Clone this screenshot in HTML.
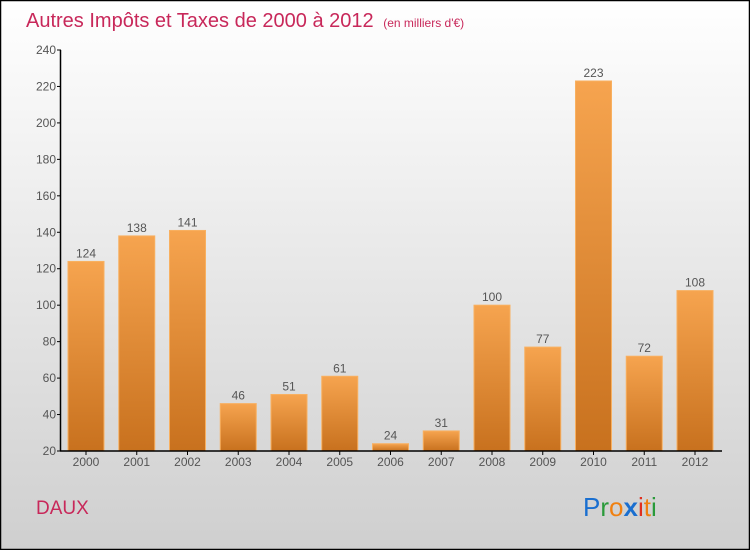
<!DOCTYPE html>
<html><head><meta charset="utf-8"><style>
body{margin:0}
svg{display:block}
text{font-family:"Liberation Sans",sans-serif}
</style></head><body>
<svg id="c" width="750" height="550" xmlns="http://www.w3.org/2000/svg">
<defs>
<linearGradient id="bg" x1="0" y1="0" x2="0" y2="1"><stop offset="0" stop-color="#ffffff"/><stop offset="1" stop-color="#cfcfcf"/></linearGradient>
<linearGradient id="bar" x1="0" y1="0" x2="0" y2="1"><stop offset="0" stop-color="#f6a44f"/><stop offset="1" stop-color="#c8711e"/></linearGradient>
</defs>
<rect x="0.5" y="0.5" width="749" height="549" fill="url(#bg)" stroke="#000" stroke-width="1.5"/>
<text x="26" y="27" font-size="20" fill="#c8285a">Autres Impôts et Taxes de 2000 à 2012 <tspan font-size="12" dx="4">(en milliers d'€)</tspan></text>
<g id="bars"></g>
<g id="axes"></g>
<text x="36" y="514" font-size="19" fill="#c8285a">DAUX</text>
<text x="583" y="516" font-size="26"><tspan fill="#1a6fd0">P</tspan><tspan fill="#2a9a3a">r</tspan><tspan fill="#f08010">o</tspan><tspan fill="#1a6fd0" font-weight="bold">x</tspan><tspan fill="#e03020">i</tspan><tspan fill="#f08010">t</tspan><tspan fill="#2a9a3a">i</tspan></text>
</svg>
<script>
const years=["2000","2001","2002","2003","2004","2005","2006","2007","2008","2009","2010","2011","2012"];
const values=[124,138,141,46,51,61,24,31,100,77,223,72,108];
const yTicks=[20,40,60,80,100,120,140,160,180,200,220,240];
const NS="http://www.w3.org/2000/svg";
const y0=451,y1=50,vmin=20,vmax=240;
function y(v){return y0-(v-vmin)/(vmax-vmin)*(y0-y1);}
function x(i){return 86+i*50.75;}
const bw=36;
const gb=document.getElementById('bars'),ga=document.getElementById('axes');
function mk(tag,attrs,parent){const e=document.createElementNS(NS,tag);for(const k in attrs)e.setAttribute(k,attrs[k]);parent.appendChild(e);return e;}
values.forEach((v,i)=>{
  const r=mk('rect',{x:x(i)-bw/2,y:y(v),width:bw,height:y0-y(v),fill:'url(#bar)',stroke:'#f8b060','stroke-width':1},gb);
  
  
  const t=mk('text',{x:x(i),y:y(v)-4,'font-size':12,fill:'#555','text-anchor':'middle'},gb);
  t.textContent=v;
  
  
  const xl=mk('text',{x:x(i),y:466,'font-size':12,fill:'#555','text-anchor':'middle'},ga);
  xl.textContent=years[i];
  
  
  const tk=mk('line',{x1:x(i),x2:x(i),y1:y0,y2:y0+4,stroke:'#000'},ga);
  
  
});
yTicks.forEach(v=>{
  const l=mk('line',{x1:57,x2:61,y1:y(v),y2:y(v),stroke:'#000'},ga);
  
  
  const t=mk('text',{x:56,y:y(v)+4,'font-size':12,fill:'#555','text-anchor':'end'},ga);
  t.textContent=v;
  
  
});
const ya=mk('line',{x1:60.5,x2:60.5,y1:y1,y2:y0,stroke:'#000','stroke-width':1.5},ga);


const xa=mk('line',{x1:60,x2:722,y1:y0,y2:y0,stroke:'#000','stroke-width':1.5},ga);


</script>
</body></html>
